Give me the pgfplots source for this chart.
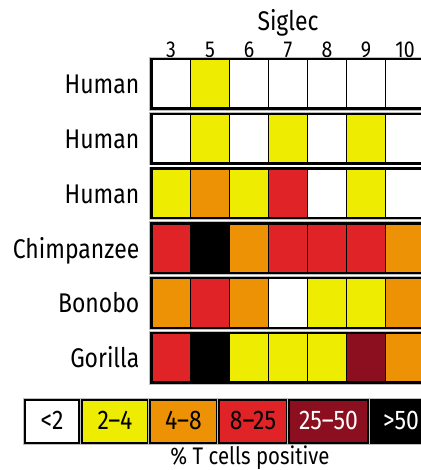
\documentclass[border=0pt]{standalone}
\usepackage{pgfplots}
\pgfplotsset{compat=1.18}
\usepackage{pgfplotstable}
\usepackage{fontspec}
\setmainfont{Fira Sans}[FakeStretch=0.85]

\definecolor{cyel}{RGB}{238,236,0}
\definecolor{corg}{RGB}{236,146,4}
\definecolor{cred}{RGB}{224,35,38}
\definecolor{cdrk}{RGB}{140,15,32}

% one cell of the grid, 39 x 49.5 (pt)
\pgfdeclareplotmark{cell}{%
  \pgfpathrectangle{\pgfpoint{-19.5pt}{-24.75pt}}{\pgfpoint{39pt}{49.5pt}}%
  \pgfusepathqfillstroke}
% frame round a whole row of 7 cells
\pgfdeclareplotmark{rowframe}{%
  \pgfpathrectangle{\pgfpoint{-136.5pt}{-24.75pt}}{\pgfpoint{273pt}{49.5pt}}%
  \pgfusepathqstroke}

% col: 0..6 = Siglec 3,5,6,7,8,9,10 ; row: 5 = top (Human) .. 0 = Gorilla
% lvl: w <2, y 2-4, o 4-8, r 8-25, d 25-50, k >50
\pgfplotstableread{
col row lvl
0 5 w
1 5 y
2 5 w
3 5 w
4 5 w
5 5 w
6 5 w
0 4 w
1 4 y
2 4 w
3 4 y
4 4 w
5 4 y
6 4 w
0 3 y
1 3 o
2 3 y
3 3 r
4 3 w
5 3 y
6 3 w
0 2 r
1 2 k
2 2 o
3 2 r
4 2 r
5 2 r
6 2 o
0 1 o
1 1 r
2 1 o
3 1 w
4 1 y
5 1 y
6 1 o
0 0 r
1 0 k
2 0 y
3 0 y
4 0 y
5 0 d
6 0 o
}\cells

\pgfplotstableread{
col row
3 0
3 1
3 2
3 3
3 4
3 5
}\frames

\newcommand{\bigfont}{\fontsize{27}{32}\selectfont}

\begin{document}
\begin{tikzpicture}
\begin{axis}[
  x=39pt, y=54.8pt,
  xmin=-0.5, xmax=6.5, ymin=-0.5, ymax=5.5,
  anchor=origin, at={(171pt,112.2pt)},
  clip=false,
  axis line style={draw=none},
  major tick length=0pt,
  ytick={0,...,5},
  yticklabels={Gorilla,Bonobo,Chimpanzee,Human,Human,Human},
  yticklabel style={anchor=base east, inner sep=0pt, xshift=-12pt, yshift=-10pt, font=\bigfont},
  xtick=\empty,
  extra x ticks={0,...,6},
  extra x tick labels={3,5,6,7,8,9,10},
  extra x tick style={
    xticklabel pos=upper,
    major tick length=0pt,
    tick label style={anchor=base, yshift=-1.3pt, font=\fontsize{23}{26}\selectfont}},
  xlabel=Siglec,
  xlabel style={at={(axis description cs:0.5,1)}, anchor=base, yshift=25.7pt, font=\bigfont},
]
% faint halo round each row
\addplot[only marks, mark=rowframe, mark options={draw=black!25, line width=4.2pt}]
  table[x=col, y=row] {\frames};
\addplot[scatter, only marks, mark=cell,
  point meta=explicit symbolic,
  scatter/classes={
    w={draw=black, line width=1.8pt, fill=white},
    y={draw=black, line width=1.8pt, fill=cyel},
    o={draw=black, line width=1.8pt, fill=corg},
    r={draw=black, line width=1.8pt, fill=cred},
    d={draw=black, line width=1.8pt, fill=cdrk},
    k={draw=black, line width=1.8pt, fill=black}},
] table[x=col, y=row, meta=lvl] {\cells};
\addplot[only marks, mark=rowframe, mark options={draw=black, line width=2.4pt}]
  table[x=col, y=row] {\frames};
\end{axis}

% colour key
\foreach \xa/\xb/\fc/\tc/\txt in {25/79/white/black/{<2}, 82/148/cyel/black/{2–4},
    150/217/corg/black/{4–8}, 219/287/cred/black/{8–25},
    289/368/cdrk/white/{25–50}, 371/431/black/white/{>50}} {
  \draw[line width=3.6pt, draw=black!25] (\xa pt,27pt) rectangle (\xb pt,70pt);
  \draw[line width=2pt, fill=\fc] (\xa pt,27pt) rectangle (\xb pt,70pt);
  \node[anchor=base, text=\tc, font=\bigfont] at ({(\xa+\xb)/2*1pt}, 40pt) {\txt};
}
\node[anchor=base, font=\fontsize{24}{28}\selectfont] at (250pt, 5.5pt) {\% T cells positive};

\pgfresetboundingbox
\useasboundingbox (0,0) rectangle (420pt,470pt);
\end{tikzpicture}
\end{document}
